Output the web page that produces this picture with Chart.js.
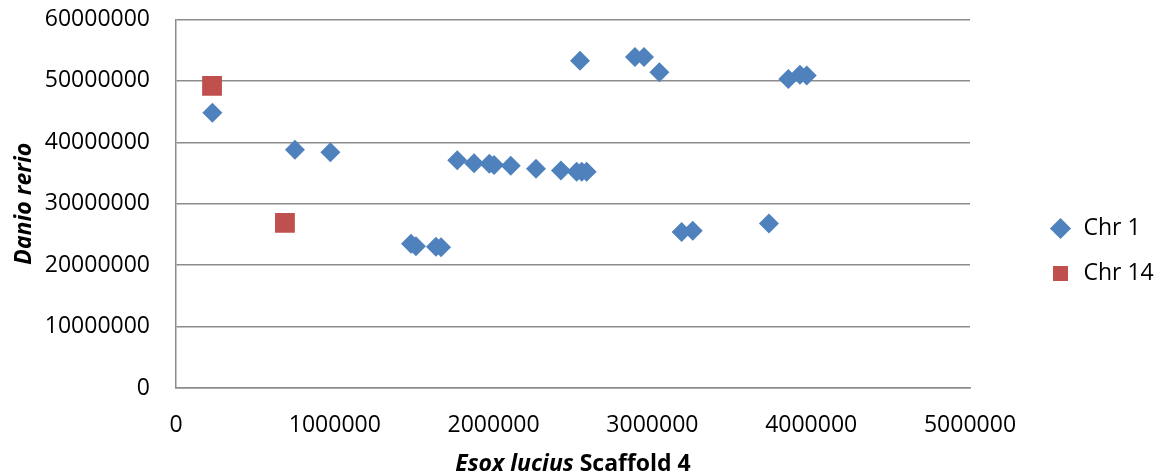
<!DOCTYPE html>
<html>
<head>
<meta charset="utf-8">
<script src="https://cdn.jsdelivr.net/npm/chart.js@4.4.1/dist/chart.umd.min.js"></script>
<style>
  html, body { margin: 0; padding: 0; background: #fff; }
  #wrap { width: 1164px; height: 476px; }
</style>
</head>
<body>
<div id="wrap"><canvas id="plot" width="1164" height="476"></canvas></div>
<script>
// Esox lucius scaffold 4 position vs Danio rerio position
var chr1X = [229000, 749000, 972000, 1480000, 1511000, 1637000, 1669000, 1771000, 1877000, 1973000,
             2003000, 2108000, 2267000, 2424000, 2523000, 2544000, 2555000, 2586000, 2890000, 2947000,
             3044000, 3184000, 3254000, 3734000, 3856000, 3929000, 3972000];
var chr1Y = [44800000, 38800000, 38400000, 23500000, 23100000, 23000000, 22900000, 37100000, 36600000, 36500000,
             36300000, 36200000, 35700000, 35400000, 35200000, 53300000, 35200000, 35200000, 53900000, 53900000,
             51400000, 25400000, 25600000, 26800000, 50300000, 51000000, 50900000];
var chr14X = [227000, 686000];
var chr14Y = [49200000, 26900000];

var xTicks = [0, 1000000, 2000000, 3000000, 4000000, 5000000];
var yTicks = [0, 10000000, 20000000, 30000000, 40000000, 50000000, 60000000];

function pts(xs, ys) {
    return xs.map(function (x, i) { return { x: x, y: ys[i] }; });
}

var FONT = '"Open Sans", "Liberation Sans", sans-serif';
Chart.defaults.font.family = FONT;
Chart.defaults.color = '#000';

// fixed legend column on the right, items nudged to where the original has them
var legendSpot = {
    id: 'legendSpot',
    beforeLayout: function (chart) {
        var lg = chart.legend;
        if (!lg || lg._patched) return;
        var fit = lg.fit;
        lg.fit = function () {
            fit.call(this);
            this.width = 194;
        };
        lg._patched = true;
    },
    afterLayout: function (chart) {
        var lg = chart.legend;
        lg.left = 1027;
        lg.right = lg.left + lg.width;
        lg.top += 13;
        lg.bottom += 13;
    }
};

// x axis title with mixed italic / upright parts
var xTitle = {
    id: 'xTitle',
    afterDraw: function (chart) {
        var ctx = chart.ctx;
        var area = chart.chartArea;
        var a = 'Esox lucius', b = ' Scaffold 4';
        ctx.save();
        ctx.fillStyle = '#000';
        ctx.textBaseline = 'alphabetic';
        ctx.font = 'italic bold 23px ' + FONT;
        var wa = ctx.measureText(a).width;
        ctx.font = 'bold 23px ' + FONT;
        var wb = ctx.measureText(b).width;
        var x0 = (area.left + area.right) / 2 - (wa + wb) / 2;
        ctx.font = 'italic bold 23px ' + FONT;
        ctx.fillText(a, x0, 471);
        ctx.font = 'bold 23px ' + FONT;
        ctx.fillText(b, x0 + wa, 471);
        ctx.restore();
    }
};

var ctx = document.getElementById('plot');
var scatterChart = new Chart(ctx, {
    type: 'scatter',
    data: {
        datasets: [{
            label: 'Chr 1',
            data: pts(chr1X, chr1Y),
            pointStyle: 'rectRot',
            pointRadius: 10,
            pointHoverRadius: 10,
            backgroundColor: '#4F81BD',
            borderColor: '#4F81BD',
            borderWidth: 0
        }, {
            label: 'Chr 14',
            data: pts(chr14X, chr14Y),
            pointStyle: 'rect',
            pointRadius: 14,
            pointHoverRadius: 14,
            backgroundColor: '#C0504D',
            borderColor: '#C0504D',
            borderWidth: 0
        }]
    },
    options: {
        responsive: false,
        animation: false,
        layout: { padding: { top: 0, right: 0, left: 0, bottom: 0 } },
        plugins: {
            tooltip: { enabled: false },
            legend: {
                position: 'right',
                labels: {
                    usePointStyle: true,
                    boxHeight: 15,
                    padding: 22,
                    font: { size: 23 },
                    color: '#000'
                }
            }
        },
        scales: {
            x: {
                type: 'linear',
                min: 0,
                max: 5000000,
                afterBuildTicks: function (scale) {
                    scale.ticks = xTicks.map(function (v) { return { value: v }; });
                },
                afterFit: function (scale) { scale.height = 88; },
                grid: { display: false, drawTicks: false },
                border: { display: true, color: '#8c8c8c', width: 1.5 },
                ticks: {
                    padding: 24,
                    maxRotation: 0,
                    font: { size: 23 },
                    callback: function (v) { return String(v); }
                }
            },
            y: {
                type: 'linear',
                min: 0,
                max: 60000000,
                afterBuildTicks: function (scale) {
                    scale.ticks = yTicks.map(function (v) { return { value: v }; });
                },
                afterFit: function (scale) {
                    scale.width = 176;
                    scale.paddingTop = 19.5;
                    scale.paddingBottom = 0;
                },
                grid: { color: '#8c8c8c', lineWidth: 1.5, drawTicks: false },
                border: { display: true, color: '#8c8c8c', width: 1.5 },
                title: {
                    display: true,
                    text: 'Danio rerio',
                    font: { size: 23, style: 'italic', weight: 'bold' },
                    padding: { top: 11, bottom: 0 }
                },
                ticks: {
                    padding: 26,
                    font: { size: 23 },
                    callback: function (v) { return String(v); }
                }
            }
        }
    },
    plugins: [legendSpot, xTitle]
});
</script>
</body>
</html>
